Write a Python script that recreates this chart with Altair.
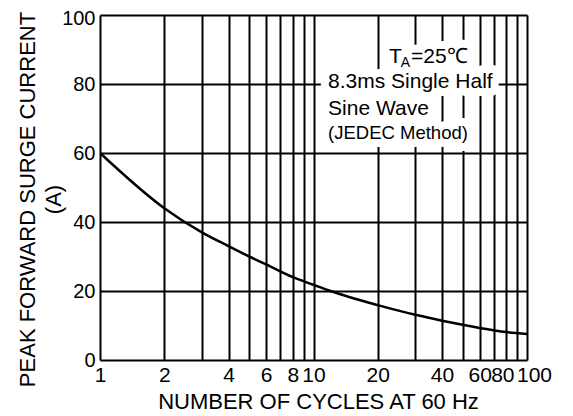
import altair as alt
import pandas as pd

# Curve
cycles = [1, 2, 3, 4, 5, 6, 8, 10, 12, 20, 30, 40, 50, 60, 80, 100]
current = [60, 44, 37, 33, 30, 27.7, 24, 21.8, 20, 15.9, 13.1, 11.4, 10.2, 9.3, 8.1, 7.5]

# Axes
x_grid = [1, 2, 3, 4, 5, 6, 7, 8, 9, 10, 20, 30, 40, 50, 60, 70, 80, 90, 100]
x_labels = [1, 2, 4, 6, 8, 10, 20, 40, 60, 80, 100]
y_ticks = [0, 20, 40, 60, 80, 100]

# Annotation
ann_text = ["T", "A", "=25\u2103", "8.3ms Single Half", "Sine Wave", "(JEDEC Method)"]
ann_x = [22.6, 25.6, 28.6, 11.7, 11.7, 11.7]
ann_y = [87.8, 86.2, 87.8, 80.5, 72.7, 65.8]
ann_size = [21, 14, 21, 21, 21, 18.5]

FONT = "Liberation Sans"

curve_df = pd.DataFrame({"cycles": cycles, "current": current})
ann_df = pd.DataFrame({"x": ann_x, "y": ann_y, "t": ann_text, "s": ann_size})

label_list = ",".join(str(v) for v in x_labels)

xscale = alt.Scale(type="log", domain=[1, 100], nice=False)
yscale = alt.Scale(domain=[0, 100], nice=False)

x_axis = alt.Axis(
    values=x_grid, grid=True, gridColor="black", gridWidth=2, gridOpacity=1,
    ticks=False, domain=False, labelFont=FONT, labelFontSize=21, labelColor="black",
    labelPadding=4, labelOverlap=False, labelFlush=False, format="d",
    labelExpr=f"indexof([{label_list}], datum.value) >= 0 ? datum.label : ''",
    labelOffset={"condition": [{"test": "datum.value == 100", "value": 7},
                               {"test": "datum.value == 80", "value": -4}],
                 "value": 0},
    title="NUMBER OF CYCLES AT 60 Hz", titleFont=FONT, titleFontSize=22,
    titleFontWeight="normal", titleColor="black", titlePadding=6, titleX=218,
)
y_axis = alt.Axis(
    values=y_ticks, grid=True, gridColor="black", gridWidth=2, gridOpacity=1,
    ticks=False, domain=False, labelFont=FONT, labelFontSize=20, labelColor="black",
    labelPadding=5, labelOverlap=False, labelFlush=False,
    labelOffset={"condition": {"test": "datum.value == 100", "value": 3}, "value": 0},
    title=["PEAK FORWARD SURGE CURRENT", "(A)"], titleFont=FONT, titleFontSize=22,
    titleFontWeight="normal", titleColor="black", titleAngle=-90,
    titleX=-83, titleY=184, titleBaseline="top", titleAlign="center",
    titleLineHeight=26,
)

base_line = alt.Chart(curve_df).mark_line(
    color="black", strokeWidth=2.5, interpolate="monotone", clip=True
).encode(
    x=alt.X("cycles:Q", scale=xscale, axis=x_axis),
    y=alt.Y("current:Q", scale=yscale, axis=y_axis),
)

halo = alt.Chart(ann_df).mark_text(
    align="left", baseline="middle", font=FONT, color="white",
    stroke="white", strokeWidth=16, strokeJoin="round",
).encode(
    x=alt.X("x:Q", scale=xscale),
    y=alt.Y("y:Q", scale=yscale),
    text="t:N",
    size=alt.Size("s:Q", scale=None, legend=None),
)

txt = alt.Chart(ann_df).mark_text(
    align="left", baseline="middle", font=FONT, color="black",
).encode(
    x=alt.X("x:Q", scale=xscale),
    y=alt.Y("y:Q", scale=yscale),
    text="t:N",
    size=alt.Size("s:Q", scale=None, legend=None),
)

chart = alt.layer(halo, base_line, txt).properties(
    width=427, height=345,
    autosize=alt.AutoSizeParams(type="none"),
    padding={"left": 92, "top": 7, "right": 30, "bottom": 54},
).configure_view(
    stroke="black", strokeWidth=3
).configure(background="white")

chart.save("out.html", embed_options={"renderer": "svg", "actions": False})
